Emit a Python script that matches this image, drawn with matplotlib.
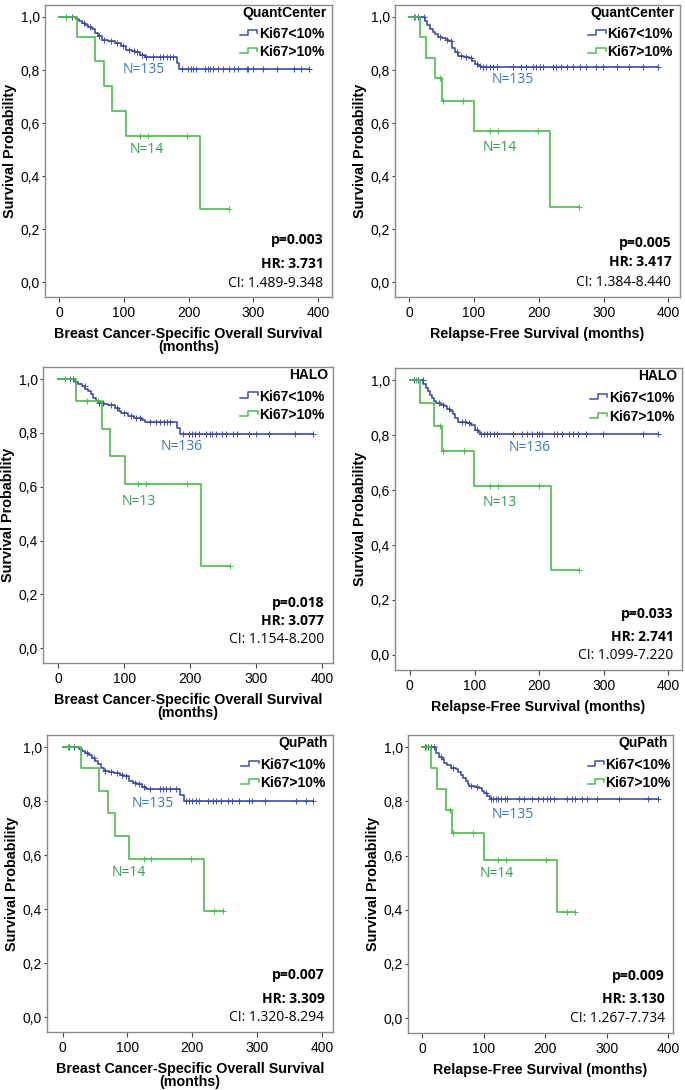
import numpy as np
import matplotlib
matplotlib.use("Agg")
import matplotlib.pyplot as plt

plt.rcParams['font.family'] = ['Liberation Sans', 'DejaVu Sans']

# ---- data (months, survival probability) ----
# QuantCenter, breast cancer-specific overall survival
qc_os_lo_t = [0, 26, 30, 35, 40, 45, 50, 55, 60, 66, 75, 86, 95, 104, 112, 117, 125, 132, 182, 186]
qc_os_lo_s = [1.0, 0.993, 0.985, 0.978, 0.971, 0.963, 0.955, 0.94, 0.93, 0.915, 0.91, 0.902, 0.89, 0.877, 0.872, 0.867, 0.858, 0.848, 0.825, 0.803]
qc_os_lo_c = [11, 19, 38, 48, 62, 70, 80, 90, 98, 108, 115, 121, 128, 135, 145, 156, 161, 166, 171, 176, 190, 199, 204, 207, 212,
              225, 230, 233, 238, 246, 253, 263, 271, 277, 290, 292, 300, 316, 337, 363, 374, 386]
qc_os_hi_t = [0, 28, 56, 70, 81, 104, 218]
qc_os_hi_s = [1.0, 0.923, 0.833, 0.740, 0.645, 0.553, 0.277]
qc_os_hi_c = [11, 125, 137, 198, 263]

# QuantCenter, relapse-free survival
qc_rfs_lo_t = [0, 24, 28, 32, 36, 40, 45, 50, 56, 61, 66, 71, 76, 85, 92, 97, 102, 106, 110]
qc_rfs_lo_s = [1.0, 0.985, 0.971, 0.955, 0.945, 0.934, 0.926, 0.921, 0.915, 0.909, 0.883, 0.868, 0.852, 0.850, 0.846, 0.835, 0.821, 0.815, 0.811]
qc_rfs_lo_c = [8, 14, 22, 48, 58, 64, 74, 80, 88, 95, 104, 109, 114, 119, 124, 130, 135, 160, 173, 181, 191, 196, 202, 207,
               222, 227, 235, 243, 253, 263, 273, 289, 299, 320, 340, 361, 384]
qc_rfs_hi_t = [0, 16.5, 25.7, 39.6, 50, 99.7, 218]
qc_rfs_hi_s = [1.0, 0.923, 0.846, 0.769, 0.684, 0.570, 0.285]
qc_rfs_hi_c = [9, 47, 52, 83, 124, 137, 199, 262]

# HALO, breast cancer-specific overall survival
halo_os_lo_t = [0, 25, 30, 36, 41, 46, 50, 53, 57, 61, 70, 76, 86, 92, 96, 106, 115, 127, 132, 180, 185]
halo_os_lo_s = [1.0, 0.99, 0.982, 0.974, 0.965, 0.955, 0.943, 0.930, 0.92, 0.911, 0.908, 0.905, 0.893, 0.882, 0.874, 0.864, 0.857, 0.849, 0.840, 0.818, 0.797]
halo_os_lo_c = [10, 18, 22, 40, 62, 68, 80, 90, 100, 110, 118, 124, 140, 148, 155, 160, 165, 170, 190, 198, 203, 208, 213,
                225, 230, 233, 240, 248, 255, 265, 272, 290, 300, 320, 360, 386]
halo_os_hi_t = [0, 27, 67, 78.5, 101, 216]
halo_os_hi_s = [1.0, 0.917, 0.815, 0.713, 0.611, 0.305]
halo_os_hi_c = [10, 44, 60, 121, 134, 195, 260]

# HALO, relapse-free survival
halo_rfs_lo_t = [0, 21, 25, 28, 31, 34, 38, 41, 48, 54, 58, 62, 66, 70, 75, 88, 95, 101, 105, 108]
halo_rfs_lo_s = [1.0, 0.985, 0.973, 0.962, 0.948, 0.936, 0.924, 0.918, 0.912, 0.906, 0.897, 0.888, 0.876, 0.864, 0.848, 0.845, 0.839, 0.820, 0.812, 0.804]
halo_rfs_lo_c = [7, 12, 20, 45, 52, 60, 80, 85, 92, 104, 110, 115, 119, 124, 130, 135, 160, 173, 181, 189, 196, 200, 205,
                 223, 228, 236, 246, 252, 260, 273, 299, 361, 384]
halo_rfs_hi_t = [0, 15.5, 37.7, 49, 99, 218]
halo_rfs_hi_s = [1.0, 0.917, 0.833, 0.741, 0.617, 0.31]
halo_rfs_hi_c = [9, 46, 52, 83, 124, 137, 199, 262]

# QuPath, breast cancer-specific overall survival
qp_os_lo_t = [0, 25, 30, 35, 40, 45, 50, 55, 60, 64, 72, 79, 88, 94, 102, 108, 115, 122, 129, 181, 187]
qp_os_lo_s = [1.0, 0.993, 0.987, 0.98, 0.97, 0.96, 0.95, 0.936, 0.922, 0.911, 0.908, 0.905, 0.898, 0.892, 0.873, 0.868, 0.863, 0.853, 0.844, 0.822, 0.800]
qp_os_lo_c = [10, 18, 38, 48, 66, 74, 84, 92, 98, 112, 118, 126, 135, 150, 155, 160, 165, 175, 190, 195, 200, 205, 210,
              225, 232, 236, 245, 255, 262, 272, 287, 292, 312, 360, 375, 386]
qp_os_hi_t = [0, 28, 55.5, 70, 81, 103, 218.5]
qp_os_hi_s = [1.0, 0.923, 0.839, 0.755, 0.671, 0.587, 0.392]
qp_os_hi_c = [9, 125, 137, 198, 234, 248]

# QuPath, relapse-free survival
qp_rfs_lo_t = [0, 23, 28, 32, 36, 41, 47, 55, 59, 63, 67, 71, 74, 77, 86, 93, 97, 101, 105, 110]
qp_rfs_lo_s = [1.0, 0.98, 0.965, 0.955, 0.943, 0.935, 0.924, 0.918, 0.908, 0.899, 0.886, 0.874, 0.864, 0.855, 0.852, 0.849, 0.84, 0.830, 0.82, 0.808]
qp_rfs_lo_c = [5, 10, 15, 20, 30, 50, 80, 90, 104, 112, 116, 120, 124, 128, 134, 138, 158, 166, 178, 188, 196, 203, 208,
               215, 235, 243, 248, 260, 268, 285, 320, 368, 384]
qp_rfs_hi_t = [0, 15.2, 24.9, 38, 48.8, 100, 219.5]
qp_rfs_hi_s = [1.0, 0.923, 0.846, 0.769, 0.684, 0.585, 0.392]
qp_rfs_hi_c = [7, 45, 50, 82, 124, 136, 202, 235, 248]

methods = ["QuantCenter", "QuantCenter", "HALO", "HALO", "QuPath", "QuPath"]
n_lo = [135, 135, 136, 136, 135, 135]
n_hi = [14, 14, 13, 13, 14, 14]
p_vals = ["0.003", "0.005", "0.018", "0.033", "0.007", "0.009"]
hr_vals = ["3.731", "3.417", "3.077", "2.741", "3.309", "3.130"]
ci_vals = ["1.489-9.348", "1.384-8.440", "1.154-8.200", "1.099-7.220", "1.320-8.294", "1.267-7.734"]
x_labels = ["Breast Cancer-Specific Overall Survival\n(months)", "Relapse-Free Survival (months)"] * 3
x_ticks = [0, 100, 200, 300, 400]
y_ticks = [0.0, 0.2, 0.4, 0.6, 0.8, 1.0]
y_ticklabels = ["0,0", "0,2", "0,4", "0,6", "0,8", "1,0"]

curves = [
    (qc_os_lo_t, qc_os_lo_s, qc_os_lo_c, qc_os_hi_t, qc_os_hi_s, qc_os_hi_c),
    (qc_rfs_lo_t, qc_rfs_lo_s, qc_rfs_lo_c, qc_rfs_hi_t, qc_rfs_hi_s, qc_rfs_hi_c),
    (halo_os_lo_t, halo_os_lo_s, halo_os_lo_c, halo_os_hi_t, halo_os_hi_s, halo_os_hi_c),
    (halo_rfs_lo_t, halo_rfs_lo_s, halo_rfs_lo_c, halo_rfs_hi_t, halo_rfs_hi_s, halo_rfs_hi_c),
    (qp_os_lo_t, qp_os_lo_s, qp_os_lo_c, qp_os_hi_t, qp_os_hi_s, qp_os_hi_c),
    (qp_rfs_lo_t, qp_rfs_lo_s, qp_rfs_lo_c, qp_rfs_hi_t, qp_rfs_hi_s, qp_rfs_hi_c),
]

# ---- layout (pixel boxes: left, top, right, bottom) and label spots ----
W, H = 685, 1090
boxes = [(45, 5, 332, 297), (395, 5, 680, 297),
         (43, 367, 333, 663), (395, 368, 682, 670),
         (47, 735, 333, 1032), (408, 735, 673, 1033)]
xlims = [(-22, 422), (-22, 418), (-23, 417), (-23, 421), (-24, 417), (-23, 408)]
n_lo_pos = [(130, 0.803), (160, 0.764), (187, 0.751), (185, 0.755), (139, 0.792), (147, 0.751)]
n_hi_pos = [(136, 0.499), (140, 0.508), (123, 0.546), (139, 0.556), (102, 0.535), (121, 0.532)]
stat_y = [(0.158, 0.070, -0.003), (0.150, 0.075, 0.0), (0.168, 0.100, 0.031),
          (0.148, 0.065, -0.002), (0.155, 0.069, 0.0), (0.155, 0.071, 0.0)]

BLUE = '#3f4ea6'
GREEN = '#4cbc4c'
BLUE_TXT = '#3a78b8'
GREEN_TXT = '#2f9e4e'
STAT_FONT = ['Open Sans', 'DejaVu Sans']


def step_value(t, s, x):
    idx = np.searchsorted(t, x, side='right') - 1
    return np.asarray(s)[idx]


def draw_km(ax, t, s, c, color):
    t = np.asarray(t, dtype=float)
    end = max(c)
    tt = np.append(t, end)
    ss = np.append(s, s[-1])
    ax.step(tt, ss, where='post', color=color, lw=1.2)
    cy = step_value(t, s, np.asarray(c, dtype=float))
    ax.plot(c, cy, ls='none', marker='+', ms=4, mew=0.7, color=color)


def legend_icon(ax, x0, y0, color):
    # small step glyph like the SPSS legend
    w, h = 0.062, 0.018
    xs = [x0, x0 + 0.45 * w, x0 + 0.45 * w, x0 + w, x0 + w]
    ys = [y0 - h / 2, y0 - h / 2, y0 + h / 2, y0 + h / 2, y0 - h * 0.05]
    ax.plot(xs, ys, color=color, lw=1.1, transform=ax.transAxes, clip_on=False)


fig = plt.figure(figsize=(W / 100, H / 100), dpi=100)

for i in range(6):
    l, tp, r, b = boxes[i]
    ax = fig.add_axes([l / W, 1 - b / H, (r - l) / W, (b - tp) / H])
    lo_t, lo_s, lo_c, hi_t, hi_s, hi_c = curves[i]

    draw_km(ax, lo_t, lo_s, lo_c, BLUE)
    draw_km(ax, hi_t, hi_s, hi_c, GREEN)

    ax.set_xlim(*xlims[i])
    ax.set_ylim(-0.055, 1.045)
    ax.set_xticks(x_ticks)
    ax.set_yticks(y_ticks)
    ax.set_yticklabels(y_ticklabels)
    ax.tick_params(direction='out', width=0.8, color='#444444', labelsize=10)
    ax.tick_params(axis='x', length=3.5, pad=3)
    ax.tick_params(axis='y', length=2.5, pad=1)
    for sp in ax.spines.values():
        sp.set_color('#8a8a8a')
        sp.set_linewidth(1.0)

    ax.set_ylabel("Survival Probability", fontsize=10.4, fontweight='bold', labelpad=3)
    ax.set_xlabel(x_labels[i], fontsize=10.3, fontweight='bold', labelpad=5, linespacing=0.88)

    # legend block
    ax.text(0.982, 0.974, methods[i], transform=ax.transAxes, ha='right', va='center',
            fontsize=10, fontweight='bold')
    ax.text(0.745, 0.90, "Ki67<10%", transform=ax.transAxes, ha='left', va='center',
            fontsize=10, fontweight='bold')
    ax.text(0.745, 0.838, "Ki67>10%", transform=ax.transAxes, ha='left', va='center',
            fontsize=10, fontweight='bold')
    legend_icon(ax, 0.678, 0.905, BLUE)
    legend_icon(ax, 0.678, 0.843, GREEN)

    # group sizes
    ax.text(n_lo_pos[i][0], n_lo_pos[i][1], f"N={n_lo[i]}", ha='center', va='center',
            fontsize=10, color=BLUE_TXT, family=STAT_FONT)
    ax.text(n_hi_pos[i][0], n_hi_pos[i][1], f"N={n_hi[i]}", ha='center', va='center',
            fontsize=10, color=GREEN_TXT, family=STAT_FONT)

    # statistics
    py, hy, cy = stat_y[i]
    tr = ax.get_yaxis_transform()
    ax.text(0.97, py, f"p={p_vals[i]}", transform=tr, ha='right', va='center',
            fontsize=10, fontweight='bold', family=STAT_FONT)
    ax.text(0.97, hy, f"HR: {hr_vals[i]}", transform=tr, ha='right', va='center',
            fontsize=10, fontweight='bold', family=STAT_FONT)
    ax.text(0.97, cy, f"CI: {ci_vals[i]}", transform=tr, ha='right', va='center',
            fontsize=10, family=STAT_FONT)

fig.savefig("out.png", dpi=100)
